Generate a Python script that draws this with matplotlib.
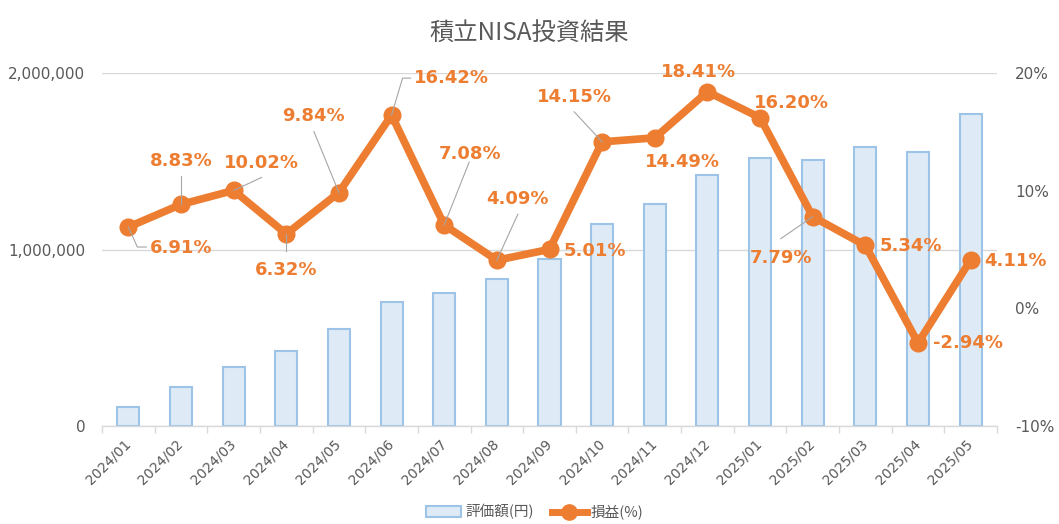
import matplotlib
matplotlib.use("Agg")
import matplotlib.pyplot as plt
from matplotlib.lines import Line2D
from matplotlib.patches import Patch
from matplotlib.transforms import IdentityTransform
from matplotlib.ticker import FuncFormatter, FixedLocator

plt.rcParams['font.family'] = ['DejaVu Sans', 'Noto Sans CJK JP']

months = ["2024/01", "2024/02", "2024/03", "2024/04", "2024/05", "2024/06",
          "2024/07", "2024/08", "2024/09", "2024/10", "2024/11", "2024/12",
          "2025/01", "2025/02", "2025/03", "2025/04", "2025/05"]
valuation = [108000, 221000, 334000, 425000, 550000, 702000, 753000, 833000,
             946000, 1144000, 1258000, 1422000, 1518000, 1507000, 1581000,
             1552000, 1768000]
profit_pct = [6.91, 8.83, 10.02, 6.32, 9.84, 16.42, 7.08, 4.09, 5.01, 14.15,
              14.49, 18.41, 16.20, 7.79, 5.34, -2.94, 4.11]

title = "積立NISA投資結果"
bar_label = "評価額(円)"
line_label = "損益(%)"

# label offsets in pixels (dx right, dy down) from marker center
label_offsets = [(53, 21), (0, -43), (28, -27), (0, 36), (-25, -77), (60, -37),
                 (26, -71), (21, -61), (45, 2), (-28, -45), (28, 24), (-9, -20),
                 (31, -15), (-32, 41), (45, 1), (50, 0), (45, 1)]
# leader lines: index -> list of pixel offsets (dx, dy down) after the marker center
leaders = {0: [(9, 20), (18, 20)], 1: [(0, -28)], 2: [(28, -13)], 3: [(0, 17)],
           4: [(-25, -61)], 5: [(11, -37), (19, -37)], 6: [(25, -63)],
           7: [(21, -46)], 9: [(-28, -30)], 13: [(-32, 22)]}

W, H = 1059, 524
fig = plt.figure(figsize=(W / 100, H / 100), dpi=100)
left, right, top, bottom = 102, 997, 73, 426
ax = fig.add_axes([left / W, 1 - bottom / H, (right - left) / W, (bottom - top) / H])
ax2 = ax.twinx()

orange = "#ED7D31"
gray_txt = "#595959"
grid_c = "#D9D9D9"

x = list(range(len(months)))
ax.bar(x, valuation, width=0.42, color="#DEEBF7", edgecolor="#9DC3E6",
       linewidth=1.5, zorder=2)
ax.set_xlim(-0.5, len(months) - 0.5)
ax.set_ylim(0, 2000000)
ax.set_yticks([0, 1000000, 2000000])
ax.yaxis.set_major_formatter(FuncFormatter(lambda v, p: f"{int(v):,}"))
ax.grid(axis='y', color=grid_c, linewidth=1, zorder=0)
ax.set_axisbelow(True)
for s in ['top', 'right', 'left']:
    ax.spines[s].set_visible(False)
ax.spines['bottom'].set_color(grid_c)
ax.spines['bottom'].set_linewidth(1)
ax.tick_params(axis='y', length=0, pad=12, labelsize=11, labelcolor=gray_txt)
ax.set_xticks(x)
ax.set_xticklabels(months, rotation=45, ha='right', va='center',
                   rotation_mode='anchor', fontsize=10, color=gray_txt)
ax.tick_params(axis='x', which='major', length=0, pad=11)
ax.xaxis.set_minor_locator(FixedLocator([i - 0.5 for i in range(len(months) + 1)]))
ax.tick_params(axis='x', which='minor', length=5, color=grid_c, width=1)

ax2.plot(x, profit_pct, color=orange, linewidth=5.5, marker='o', markersize=12,
         solid_joinstyle='round', zorder=3)
ax2.set_ylim(-10, 20)
ax2.set_yticks([-10, 0, 10, 20])
ax2.yaxis.set_major_formatter(FuncFormatter(lambda v, p: f"{int(v)}%"))
ax2.tick_params(axis='y', length=0, pad=13, labelsize=11, labelcolor=gray_txt)
for s in ['top', 'right', 'left', 'bottom']:
    ax2.spines[s].set_visible(False)

for i, (v, (dx, dy)) in enumerate(zip(profit_pct, label_offsets)):
    ax2.annotate(f"{v:.2f}%", xy=(i, v), xytext=(dx, -dy),
                 textcoords='offset pixels', ha='center', va='center',
                 fontsize=13, fontweight='bold', color=orange, zorder=5)

fig.canvas.draw()
for i, pts in leaders.items():
    px, py = ax2.transData.transform((i, profit_pct[i]))
    xs = [px] + [px + a for a, b in pts]
    ys = [py] + [py - b for a, b in pts]
    fig.add_artist(Line2D(xs, ys, transform=IdentityTransform(),
                          color="#A6A6A6", linewidth=0.8, zorder=4))

fig.text(0.5, 1 - 33 / H, title, ha='center', va='center', fontsize=17.5,
         color=gray_txt, family=['Noto Sans CJK JP', 'DejaVu Sans'])

handles = [Patch(facecolor="#DEEBF7", edgecolor="#9DC3E6", linewidth=1.5),
           Line2D([0], [0], color=orange, linewidth=5, marker='o', markersize=11)]
leg = fig.legend(handles, [bar_label, line_label], loc='center',
                 bbox_to_anchor=(535 / W, 1 - 512 / H), ncol=2, frameon=False,
                 prop={'family': ['Noto Sans CJK JP', 'DejaVu Sans'], 'size': 10.5},
                 handlelength=2.4, columnspacing=1.2, handletextpad=0.3)
for t in leg.get_texts():
    t.set_color(gray_txt)

fig.savefig("out.png", dpi=100)
